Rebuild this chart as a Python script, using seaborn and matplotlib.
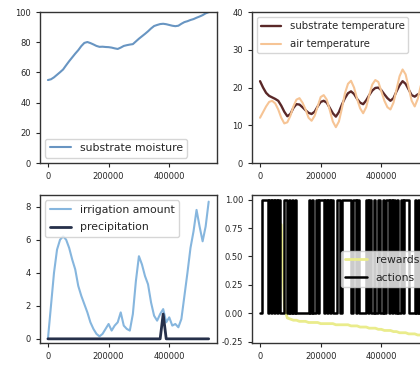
import numpy as np
import matplotlib
matplotlib.use("Agg")
import matplotlib.pyplot as plt
import seaborn as sns

# time steps (every 10000) for the sensor series
steps = np.arange(0, 540000, 10000)

substrate_moisture = [55.0, 55.5, 56.8, 58.5, 60.2, 62.0, 64.8, 67.5, 70.0, 72.5,
                      74.8, 77.5, 79.6, 80.2, 79.5, 78.6, 77.6, 77.0, 77.1, 76.9,
                      76.8, 76.5, 76.0, 75.6, 76.5, 77.6, 78.1, 78.5, 78.8, 80.6,
                      82.4, 84.0, 85.6, 87.3, 89.2, 90.8, 91.5, 92.1, 92.3, 92.0,
                      91.5, 91.0, 90.7, 91.0, 92.3, 93.4, 94.0, 94.8, 95.4, 96.3,
                      97.1, 98.0, 99.2, 100.0]

substrate_temp = [21.7, 20.0, 18.6, 17.8, 17.4, 17.0, 16.5, 15.2, 13.6, 12.4,
                  13.0, 14.6, 15.6, 15.5, 14.8, 14.0, 13.3, 13.0, 13.6, 15.0,
                  16.2, 16.5, 16.0, 14.6, 13.2, 12.3, 13.5, 15.5, 17.2, 18.5,
                  19.0, 18.3, 17.0, 16.0, 15.6, 16.6, 18.0, 19.2, 19.9, 20.0,
                  19.3, 18.2, 17.2, 16.5, 17.2, 19.0, 20.6, 21.7, 21.0, 19.5,
                  18.0, 17.6, 18.2, 18.5]

air_temp = [12.0, 13.5, 15.0, 16.2, 16.5, 15.8, 14.2, 12.0, 10.5, 10.8,
            12.5, 15.0, 16.8, 17.2, 16.0, 14.2, 12.0, 11.2, 12.5, 15.0,
            17.5, 18.0, 16.8, 14.0, 11.0, 9.5, 11.0, 14.5, 18.5, 21.0,
            21.8, 20.0, 17.0, 14.5, 13.2, 14.8, 18.0, 20.8, 22.0, 21.5,
            19.0, 16.5, 14.8, 14.2, 16.0, 19.5, 23.0, 24.8, 23.5, 20.0,
            16.5, 15.0, 17.0, 20.5]

irrigation = [0.0, 2.0, 4.0, 5.4, 6.0, 6.2, 6.0, 5.5, 4.8, 4.2,
              3.2, 2.6, 2.1, 1.6, 1.0, 0.6, 0.3, 0.15, 0.3, 0.6,
              0.9, 0.5, 0.8, 1.0, 1.6, 0.8, 0.6, 0.5, 1.5, 3.5,
              5.0, 4.5, 3.8, 3.3, 2.2, 1.4, 1.1, 1.5, 1.8, 1.0,
              1.3, 0.8, 0.9, 0.7, 1.2, 2.6, 4.0, 5.5, 6.5, 7.8,
              6.8, 5.9, 6.8, 8.3]

precipitation = [0, 0, 0, 0, 0, 0, 0, 0, 0, 0,
                 0, 0, 0, 0, 0, 0, 0, 0, 0, 0,
                 0, 0, 0, 0, 0, 0, 0, 0, 0, 0,
                 0, 0, 0, 0, 0, 0, 0, 0, 1.5, 0,
                 0, 0, 0, 0, 0, 0, 0, 0, 0, 0,
                 0, 0, 0, 0]

# rewards only start after the first episodes
reward_steps = np.arange(70000, 540000, 10000)
rewards = [0.78, 0.05, -0.04, -0.05, -0.06, -0.06, -0.07, -0.07, -0.07, -0.08,
           -0.08, -0.08, -0.08, -0.09, -0.09, -0.09, -0.09, -0.09, -0.10, -0.10,
           -0.10, -0.10, -0.10, -0.11, -0.11, -0.11, -0.12, -0.12, -0.12, -0.13,
           -0.13, -0.13, -0.14, -0.14, -0.15, -0.15, -0.15, -0.16, -0.16, -0.17,
           -0.17, -0.17, -0.18, -0.18, -0.18, -0.19, -0.19]

# actions sampled every 5000 steps (on/off)
action_steps = np.arange(0, 535000, 5000)
actions = [0, 1, 1, 1, 1,
           0, 1, 0, 1, 0, 1, 0, 1, 0,
           0, 0, 1, 1,
           0, 1, 0, 1, 0, 1, 0,
           0, 0, 0, 0, 0, 0, 0,
           1, 0, 1, 0,
           0,
           1, 0, 1,
           1, 1,
           0, 1, 0, 1, 0, 1, 0,
           0, 0,
           1, 1,
           0, 1,
           1, 1, 1, 1, 1,
           0, 1,
           1,
           0, 1, 0,
           0, 0, 0, 0,
           1, 0, 1, 0,
           0, 1, 0,
           0,
           1, 0,
           0,
           1, 0, 1,
           1,
           0, 1, 0,
           1, 0, 1, 0,
           0,
           1, 0, 1,
           1, 1,
           0, 0, 0, 0,
           1, 0, 1, 0,
           1]

xticks = [0, 200000, 400000]

sns.set_style("ticks")
plt.rcParams['font.family'] = ['DejaVu Sans']

fig = plt.figure(figsize=(4.2, 3.68), dpi=100)
ax1 = fig.add_axes([0.095, 0.557, 0.421, 0.410])
ax2 = fig.add_axes([0.600, 0.557, 0.421, 0.410])
ax3 = fig.add_axes([0.095, 0.068, 0.421, 0.402])
ax4 = fig.add_axes([0.600, 0.068, 0.421, 0.402])

lw = 1.5

sns.lineplot(x=steps, y=substrate_moisture, ax=ax1, color="#6895c2", lw=lw,
             label="substrate moisture")
ax1.set_ylim(0, 100)
ax1.set_yticks([0, 20, 40, 60, 80, 100])
ax1.legend(loc="lower left", fontsize=7.8)

sns.lineplot(x=steps, y=substrate_temp, ax=ax2, color="#5a2828", lw=1.7,
             label="substrate temperature")
sns.lineplot(x=steps, y=air_temp, ax=ax2, color="#f6c495", lw=lw,
             label="air temperature")
ax2.set_ylim(0, 40)
ax2.set_yticks([0, 10, 20, 30, 40])
ax2.legend(loc="upper left", fontsize=7.3, labelspacing=0.8)

sns.lineplot(x=steps, y=irrigation, ax=ax3, color="#86b6de", lw=lw,
             label="irrigation amount")
sns.lineplot(x=steps, y=precipitation, ax=ax3, color="#26304a", lw=2.0,
             label="precipitation")
ax3.set_ylim(-0.25, 8.7)
ax3.set_yticks([0, 2, 4, 6, 8])
ax3.legend(loc="upper left", fontsize=7.8, labelspacing=0.7)

sns.lineplot(x=reward_steps, y=rewards, ax=ax4, color="#eaec8c", lw=2.0,
             label="rewards")
sns.lineplot(x=action_steps, y=actions, ax=ax4, color="black", lw=1.8,
             drawstyle="steps-post", label="actions")
ax4.set_ylim(-0.26, 1.04)
ax4.set_yticks([-0.25, 0.0, 0.25, 0.5, 0.75, 1.0])
ax4.set_yticklabels(["-0.25", "0.00", "0.25", "0.50", "0.75", "1.00"])
ax4.legend(loc="center right", fontsize=7.8, labelspacing=0.7)

for ax in [ax1, ax2, ax3, ax4]:
    ax.set_xlim(-26500, 556500)
    ax.set_xticks(xticks)
    ax.tick_params(labelsize=6, length=3, width=0.8)
    ax.set_xlabel("")
    ax.set_ylabel("")
    for s in ax.spines.values():
        s.set_linewidth(1.0)
        s.set_color("#333333")

fig.savefig("out.png", dpi=100)
